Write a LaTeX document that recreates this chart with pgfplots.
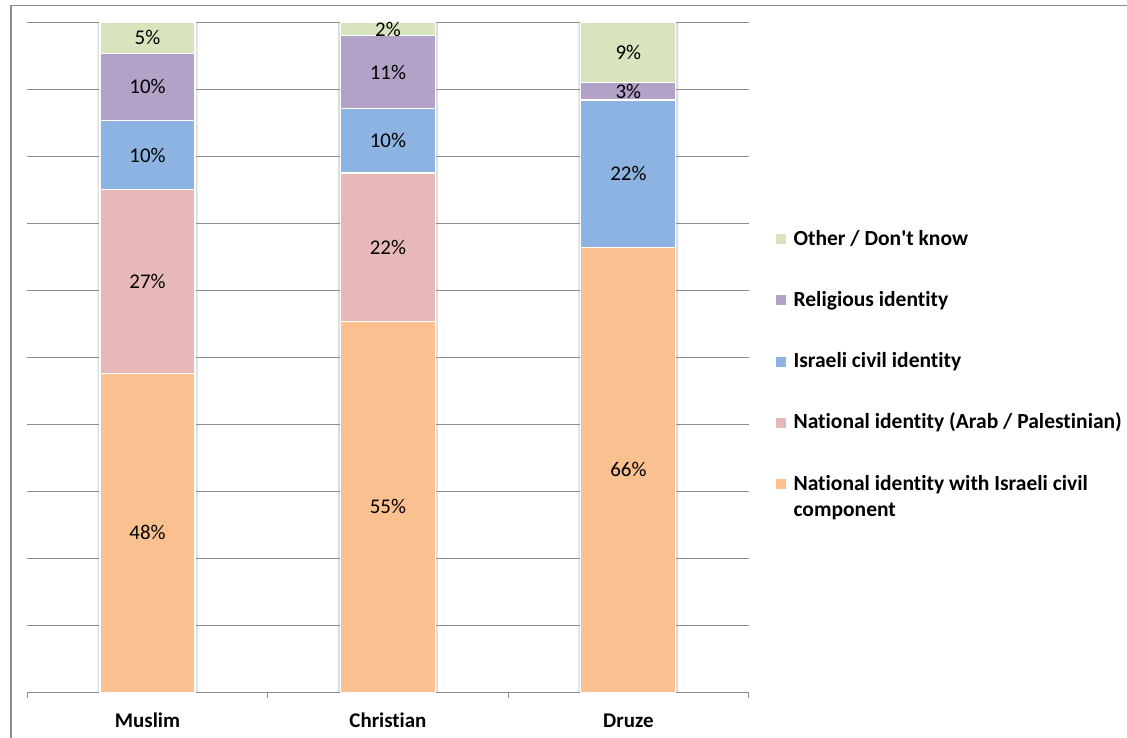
\documentclass[border=0pt]{standalone}
\usepackage{pgfplots}
\pgfplotsset{compat=1.18}
\usepackage{pgfplotstable}
\usepackage{fontspec}
\setmainfont[Ligatures={NoCommon}]{Carlito}
\definecolor{cOrange}{HTML}{FAC090}
\definecolor{cPink}{HTML}{E6B9B8}
\definecolor{cBlue}{HTML}{8DB3E2}
\definecolor{cPurple}{HTML}{B3A2C7}
\definecolor{cGreen}{HTML}{D7E4BD}
\definecolor{gridgray}{HTML}{8C8C8C}
\definecolor{shadow}{HTML}{DEDEDE}
\pgfplotstableread{
x natis nat isr rel oth
0 47.6 27.4 10.3 10.1 4.6
1 55.4 22.1 9.6 10.9 2.0
2 66.4 0 22.0 2.6 9.0
}\datatable
\pgfplotsset{
  basegeom/.style={
    scale only axis, width=721.3bp, height=670bp,
    at={(27.3bp,45.7bp)}, anchor=south west,
    xmin=-0.5, xmax=2.5, ymin=0, ymax=100,
  },
  lbl/.style={draw=none, mark=none, nodes near coords={\pgfmathprintnumber{\pgfplotspointmeta}\%},
    point meta=explicit,
    every node near coord/.append style={anchor=center, font=\fontsize{21}{24}\selectfont, text=black}},
}
\begin{document}
\begin{tikzpicture}
\useasboundingbox (0,0) rectangle (1127bp,738bp);
\draw[gridgray, line width=1.6bp] (10.7bp,0) -- (10.7bp,732.4bp) -- (1127bp,732.4bp);
\begin{axis}[basegeom, hide axis, ybar, bar width=100bp]
\addplot[fill=shadow, draw=none] table[x=x, y expr=\thisrow{natis}+\thisrow{nat}+\thisrow{isr}+\thisrow{rel}+\thisrow{oth}]{\datatable};
\end{axis}
\begin{axis}[basegeom,
  ybar stacked, bar width=95bp,
  axis x line*=bottom, axis y line*=left,
  y axis line style={draw=none},
  ytick={0,10,...,100}, yticklabels={},
  ymajorgrids, grid style={gridgray, line width=0.9bp},
  major tick length=0pt,
  xtick={0,1,2}, xticklabels={Muslim,Christian,Druze},
  x axis line style={gridgray, line width=1bp},
  extra x ticks={-0.5,0.5,1.5,2.5}, extra x tick labels={},
  extra x tick style={grid=none, major tick length=6bp, tick align=outside, tick style={gridgray, line width=1bp}},
  xticklabel style={font=\fontsize{21}{24}\selectfont\bfseries, anchor=base, yshift=-35bp},
  reverse legend,
  legend style={at={(1.0374,0.6896)}, anchor=north west, draw=none, fill=none,
    inner sep=0pt, outer sep=0pt, row sep=41.2bp, column sep=0bp,
    cells={anchor=base west},
    nodes={font=\fontsize{21.6}{26.5}\selectfont\bfseries, inner sep=0pt, text height=15bp, text depth=5bp}},
  legend image code/.code={\path[draw=none,fill=none] (0bp,-5bp) rectangle (18bp,15bp); \fill[#1,draw=none] (0bp,1bp) rectangle (10.5bp,11bp);},
]
\addplot[fill=cOrange, draw=white, line width=1.2bp] table[x=x,y=natis]{\datatable};
\addlegendentry{\parbox[t]{340bp}{National identity with Israeli civil\\component}}
\addplot[fill=cPink, draw=white, line width=1.2bp] table[x=x,y=nat]{\datatable};
\addlegendentry{National identity (Arab / Palestinian)}
\addplot[fill=cBlue, draw=white, line width=1.2bp] table[x=x,y=isr]{\datatable};
\addlegendentry{Israeli civil identity}
\addplot[fill=cPurple, draw=white, line width=1.2bp] table[x=x,y=rel]{\datatable};
\addlegendentry{Religious identity}
\addplot[fill=cGreen, draw=white, line width=1.2bp] table[x=x,y=oth]{\datatable};
\addlegendentry{Other / Don\textquotesingle t know}
\end{axis}
\begin{axis}[basegeom, hide axis, /pgf/number format/assume math mode=true,
  /pgf/number format/fixed, /pgf/number format/precision=0]
\addplot[lbl] table[x=x, y expr=\thisrow{natis}/2, meta=natis]{\datatable};
\addplot[lbl, restrict expr to domain={\thisrow{nat}}{0.5:200}] table[x=x, y expr=\thisrow{natis}+\thisrow{nat}/2, meta=nat]{\datatable};
\addplot[lbl] table[x=x, y expr=\thisrow{natis}+\thisrow{nat}+\thisrow{isr}/2, meta=isr]{\datatable};
\addplot[lbl] table[x=x, y expr=\thisrow{natis}+\thisrow{nat}+\thisrow{isr}+\thisrow{rel}/2, meta=rel]{\datatable};
\addplot[lbl] table[x=x, y expr=\thisrow{natis}+\thisrow{nat}+\thisrow{isr}+\thisrow{rel}+\thisrow{oth}/2, meta=oth]{\datatable};
\end{axis}
\end{tikzpicture}
\end{document}
